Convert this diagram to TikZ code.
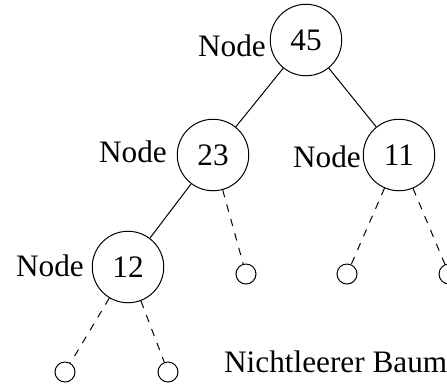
\documentclass[tikz,border=0pt]{standalone}
\usepackage{fontspec}
\setmainfont{Liberation Serif}
\usetikzlibrary{positioning}

\begin{document}
\begin{tikzpicture}[x=0.4pt, y=0.4pt,
    every node/.style={font=\fontsize{12.5}{15}\selectfont},
    key/.style={circle, draw, minimum size=28.6pt, inner sep=0pt},
    leaf/.style={circle, draw, minimum size=8pt, inner sep=0pt}]
% Fix the page to the reference size
\useasboundingbox (0,0) rectangle (447,-383);

% Inner nodes
\node[key] (n45) at (306, -40) {45};
\node[key] (n23) at (213,-155) {23};
\node[key] (n11) at (399,-155) {11};
\node[key] (n12) at (128,-267) {12};

% Labels
\node (l45) at (232, -46) {Node};
\node (l23) at (133,-152) {Node};
\node (l11) at (327,-157) {Node};
\node (l12) at (50, -266) {Node};

% Empty leaves
\node[leaf] (e23) at (246,-274) {};
\node[leaf] (e11a) at (347,-274) {};
\node[leaf] (e11b) at (449,-274) {};
\node[leaf] (e12a) at (65, -372) {};
\node[leaf] (e12b) at (168,-372) {};

% Edges
\draw (n45) -- (n23);
\draw (n45) -- (n11);
\draw (n23) -- (n12);
\draw[dashed] (n23) -- (e23);
\draw[dashed] (n11) -- (e11a);
\draw[dashed] (n11) -- (e11b);
\draw[dashed] (n12) -- (e12a);
\draw[dashed] (n12) -- (e12b);

% Caption
\node[anchor=base east] (title) at (456,-372) {Nichtleerer Baum};
\end{tikzpicture}
\end{document}
